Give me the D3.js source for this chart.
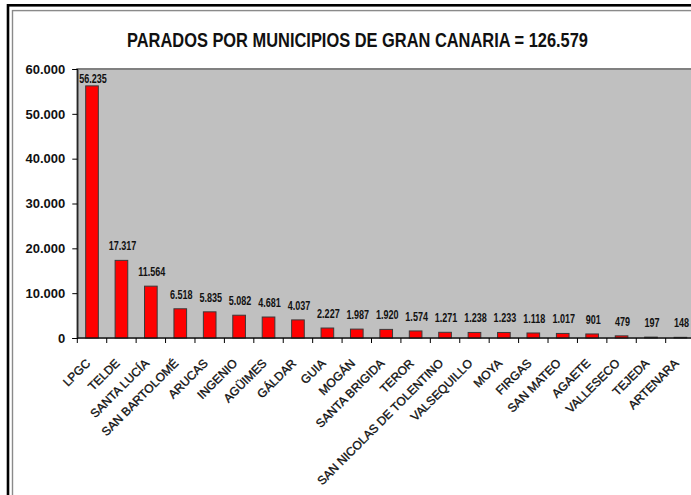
<!DOCTYPE html>
<html>
<head>
<meta charset="utf-8">
<script src="https://cdn.jsdelivr.net/npm/d3@7/dist/d3.min.js"></script>
<style>
  body { margin: 0; background: #fff; }
  svg { display: block; }
  .title { font-family: "Liberation Sans", Arial, sans-serif; font-weight: bold; }
  .val { font-family: "Liberation Sans", Arial, sans-serif; font-weight: bold; font-size: 11px; }
  .yt text { font-family: "Liberation Sans", Arial, sans-serif; font-size: 13px; }
  .xl { font-family: "Liberation Sans", Arial, sans-serif; font-size: 12px; }
</style>
</head>
<body>
<div id="chart"></div>
<script>
// municipios, ordered as in the chart
const municipios = ["LPGC", "TELDE", "SANTA LUCÍA", "SAN BARTOLOMÉ", "ARUCAS", "INGENIO", "AGÜIMES",
    "GÁLDAR", "GUIA", "MOGÁN", "SANTA BRIGIDA", "TEROR", "SAN NICOLAS DE TOLENTINO", "VALSEQUILLO",
    "MOYA", "FIRGAS", "SAN MATEO", "AGAETE", "VALLESECO", "TEJEDA", "ARTENARA"];
const parados = [56235, 17317, 11564, 6518, 5835, 5082, 4681, 4037, 2227, 1987, 1920, 1574,
    1271, 1238, 1233, 1118, 1017, 901, 479, 197, 148];
const yTicks = [0, 10000, 20000, 30000, 40000, 50000, 60000];
const titulo = "PARADOS POR MUNICIPIOS DE GRAN CANARIA = 126.579";

const W = 691, H = 495;
const PLOT = { left: 77.3, top: 69, bottom: 338, step: 29.42 };
PLOT.right = PLOT.left + PLOT.step * municipios.length;

const es = d3.formatLocale({ decimal: ",", thousands: ".", grouping: [3], currency: ["", ""] });
const fmt = es.format(",");

const svg = d3.select("#chart").append("svg")
    .attr("width", W)
    .attr("height", H);

svg.append("rect").attr("width", W).attr("height", H).attr("fill", "#fff");

// double frame (right/bottom run off the picture)
svg.append("rect")
    .attr("x", 8).attr("y", 5.3).attr("width", W + 20).attr("height", H + 20)
    .attr("fill", "none").attr("stroke", "#000").attr("stroke-width", 2.6);
svg.append("rect")
    .attr("x", 12.5).attr("y", 10.6).attr("width", W + 20).attr("height", H + 20)
    .attr("fill", "none").attr("stroke", "#8a8a8a").attr("stroke-width", 1.4);

svg.append("text")
    .attr("class", "title")
    .attr("x", 127).attr("y", 47)
    .attr("font-size", 19.5)
    .attr("textLength", 461)
    .attr("lengthAdjust", "spacingAndGlyphs")
    .attr("fill", "#111")
    .text(titulo);

const x = d3.scaleBand()
    .domain(municipios)
    .range([PLOT.left, PLOT.right])
    .padding(0);

const y = d3.scaleLinear()
    .domain([0, 60000])
    .range([PLOT.bottom, PLOT.top]);

// plot area
svg.append("rect")
    .attr("x", PLOT.left).attr("y", PLOT.top)
    .attr("width", PLOT.right - PLOT.left).attr("height", PLOT.bottom - PLOT.top)
    .attr("fill", "#c0c0c0")
    .attr("stroke", "#808080")
    .attr("stroke-width", 2);

const barW = x.bandwidth() * 0.43;

svg.append("g").selectAll("rect")
    .data(parados)
    .join("rect")
    .attr("x", (d, i) => x(municipios[i]) + (x.bandwidth() - barW) / 2)
    .attr("y", d => y(d))
    .attr("width", barW)
    .attr("height", d => y(0) - y(d))
    .attr("fill", "#ff0000")
    .attr("stroke", "#3a3a3a")
    .attr("stroke-width", 1);

// value labels (narrowed), the top one is held inside the plot
svg.append("g").selectAll("text")
    .data(parados)
    .join("text")
    .attr("class", "val")
    .attr("text-anchor", "middle")
    .attr("fill", "#111")
    .attr("transform", (d, i) => `translate(${x(municipios[i]) + x.bandwidth() / 2 + 1},${Math.max(y(d) - 10, 83)}) scale(0.82,1.1)`)
    .text(d => fmt(d));

// y axis
const yAxis = svg.append("g")
    .attr("class", "yt")
    .attr("transform", `translate(${PLOT.left},0)`)
    .call(d3.axisLeft(y).tickValues(yTicks).tickFormat(fmt).tickSize(5).tickPadding(7));
yAxis.select(".domain").attr("stroke", "#000");
yAxis.selectAll("text").attr("fill", "#111").attr("font-weight", "bold");

// x axis line + ticks at band edges
const edges = municipios.map(m => x(m)).concat([PLOT.right]);
svg.append("line")
    .attr("x1", PLOT.left).attr("x2", PLOT.right)
    .attr("y1", y(0)).attr("y2", y(0))
    .attr("stroke", "#000");
svg.append("g").selectAll("line")
    .data(edges)
    .join("line")
    .attr("x1", d => d).attr("x2", d => d)
    .attr("y1", y(0)).attr("y2", y(0) + 5)
    .attr("stroke", "#000");

// category labels at -45deg
svg.append("g").selectAll("text")
    .data(municipios)
    .join("text")
    .attr("class", "xl")
    .attr("text-anchor", "end")
    .attr("fill", "#111")
    .attr("stroke", "#111")
    .attr("stroke-width", 0.35)
    .attr("transform", d => `translate(${x(d) + x.bandwidth() / 2 - 1},364) rotate(-45)`)
    .text(d => d);
</script>
</body>
</html>
